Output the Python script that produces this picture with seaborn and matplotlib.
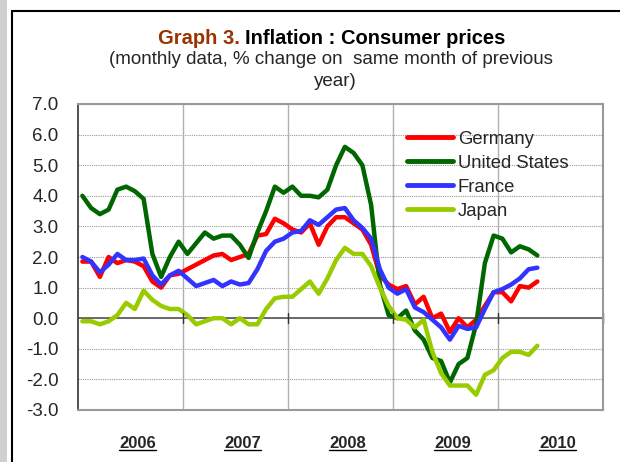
import numpy as np
import pandas as pd
import matplotlib
matplotlib.use("Agg")
import matplotlib.pyplot as plt
import seaborn as sns
from matplotlib.lines import Line2D
from matplotlib.patches import Rectangle

# ── Données (variation annuelle en %, janv. 2006 -> mai 2010) ───────────────
germany = [1.85, 1.85, 1.35, 2.0, 1.8, 1.9, 1.85, 1.7, 1.2, 1.0, 1.4, 1.45,
           1.6, 1.75, 1.9, 2.05, 2.1, 1.9, 2.0, 2.1, 2.7, 2.75, 3.25, 3.1,
           2.9, 2.8, 3.1, 2.4, 3.0, 3.3, 3.3, 3.1, 2.9, 2.4, 1.4, 1.1,
           0.95, 1.05, 0.45, 0.7, 0.0, 0.15, -0.45, 0.0, -0.3, -0.05, 0.4, 0.85,
           0.85, 0.55, 1.05, 1.0, 1.2]
united_states = [4.0, 3.6, 3.4, 3.55, 4.2, 4.3, 4.15, 3.9, 2.1, 1.35, 2.0, 2.5,
                 2.1, 2.45, 2.8, 2.6, 2.7, 2.7, 2.4, 1.97, 2.8, 3.5, 4.3, 4.1,
                 4.3, 4.0, 4.0, 3.95, 4.2, 5.0, 5.6, 5.4, 5.0, 3.7, 1.1, 0.1,
                 0.0, 0.25, -0.4, -0.7, -1.3, -1.4, -2.1, -1.5, -1.3, -0.2, 1.8, 2.7,
                 2.6, 2.15, 2.35, 2.25, 2.05]
france = [2.0, 1.85, 1.5, 1.75, 2.1, 1.9, 1.9, 1.95, 1.4, 1.1, 1.4, 1.55,
          1.3, 1.05, 1.15, 1.25, 1.05, 1.2, 1.1, 1.15, 1.6, 2.2, 2.5, 2.6,
          2.8, 2.85, 3.2, 3.05, 3.3, 3.55, 3.6, 3.2, 2.95, 2.6, 1.6, 1.0,
          0.8, 0.95, 0.35, 0.2, -0.05, -0.3, -0.7, -0.25, -0.35, -0.3, 0.3, 0.85,
          0.95, 1.1, 1.3, 1.6, 1.65]
japan = [-0.1, -0.1, -0.2, -0.1, 0.1, 0.5, 0.3, 0.9, 0.6, 0.4, 0.3, 0.3,
         0.1, -0.2, -0.1, 0.0, 0.0, -0.2, 0.0, -0.2, -0.2, 0.3, 0.65, 0.7,
         0.7, 0.95, 1.2, 0.8, 1.3, 1.9, 2.3, 2.1, 2.1, 1.7, 1.0, 0.4,
         0.0, -0.05, -0.3, -0.05, -1.1, -1.8, -2.2, -2.2, -2.2, -2.5, -1.85, -1.7,
         -1.3, -1.1, -1.1, -1.2, -0.9]

series_names  = ["Germany", "United States", "France", "Japan"]
series_colors = ["#FF0000", "#006600", "#3333FF", "#99CC00"]
years         = ["2006", "2007", "2008", "2009", "2010"]
y_ticks       = np.arange(-3, 8, 1)

# ── Mise en forme long ───────────────────────────────────────────────────────
n = len(germany)
month = np.arange(n) + 0.5
df = pd.concat([
    pd.DataFrame({"month": month, "value": vals, "country": name})
    for name, vals in zip(series_names, [germany, united_states, france, japan])
])

sns.set_style("white")
plt.rcParams["font.family"] = ["Liberation Sans", "DejaVu Sans"]

fig = plt.figure(figsize=(6.2, 4.62), dpi=100)
W, H = 620, 462

# cadre de la capture (bande grise à gauche, bordure noire)
fig.patches.append(Rectangle((0, 0), 7 / W, 1, transform=fig.transFigure,
                             facecolor="#d0d0d0", edgecolor="none"))
fig.lines.append(Line2D([12 / W, 12 / W], [0, 1 - 11 / H], transform=fig.transFigure,
                        color="black", lw=1.5))
fig.lines.append(Line2D([12 / W, 1], [1 - 11 / H, 1 - 11 / H], transform=fig.transFigure,
                        color="black", lw=1.5))

ax = fig.add_axes([78 / W, 1 - 410 / H, 525 / W, 306 / H])

sns.lineplot(data=df, x="month", y="value", hue="country", hue_order=series_names,
             palette=series_colors, linewidth=3.2, ax=ax, legend=True)

ax.set_xlim(0, 60)
ax.set_ylim(-3, 7)
ax.set_yticks(y_ticks)
ax.set_yticklabels([f"{v:.1f}" for v in y_ticks], fontsize=13.5)
ax.set_xlabel("")
ax.set_ylabel("")

# grilles
for yv in y_ticks:
    ax.axhline(yv, color="#999999", lw=0.8, ls=(0, (1, 1)), zorder=0)
for xv in [12, 24, 36, 48]:
    ax.axvline(xv, color="#b0b0b0", lw=1.0, zorder=0)
ax.axhline(0, color="#555555", lw=1.2, zorder=1)

for side in ["top", "right", "bottom"]:
    ax.spines[side].set_color("#999999")
    ax.spines[side].set_linewidth(1.5)
ax.spines["left"].set_color("#333333")
ax.spines["left"].set_linewidth(1.2)
ax.tick_params(axis="y", direction="out", length=7, width=1, color="#333333", pad=7)
ax.set_xticks([])

# petits repères annuels sur l'axe zéro
for xv in [12, 24, 36, 48, 60]:
    ax.plot([xv, xv], [-0.17, 0.17], color="#333333", lw=1, clip_on=False, zorder=2)

# légende
leg = ax.legend(loc="upper left", bbox_to_anchor=(0.612, 0.937), frameon=False,
                fontsize=13.3, handlelength=2.5, handletextpad=0.27, labelspacing=0.38,
                borderaxespad=0)
for line in leg.get_lines():
    line.set_linewidth(3.5)

# années sous l'axe, soulignées
year_texts = []
for i, yr in enumerate(years):
    t = ax.text(i * 12 + 6.8, -3.85, yr, ha="center", va="top",
                fontsize=12, fontweight="bold")
    year_texts.append(t)

# titre
fig.text(245 / W, 1 - 38 / H, "Graph 3. ", color="#993300", fontsize=14.5, fontweight="bold",
         ha="right", va="center")
fig.text(245 / W, 1 - 38 / H, "Inflation : Consumer prices", color="black", fontsize=14.5,
         fontweight="bold", ha="left", va="center")
fig.text(331 / W, 1 - 60 / H, "(monthly data, % change on  same month of previous",
         fontsize=13.5, ha="center", va="center")
fig.text(335 / W, 1 - 81 / H, "year)", fontsize=13.5, ha="center", va="center")

fig.canvas.draw()
renderer = fig.canvas.get_renderer()
inv = fig.transFigure.inverted()
for t in year_texts:
    bb = t.get_window_extent(renderer)
    (x0, y0), (x1, _) = inv.transform([[bb.x0, bb.y0], [bb.x1, bb.y1]])
    fig.lines.append(Line2D([x0, x1], [y0 + 1 / H, y0 + 1 / H], transform=fig.transFigure,
                            color="black", lw=1))

fig.savefig("out.png", dpi=100)
